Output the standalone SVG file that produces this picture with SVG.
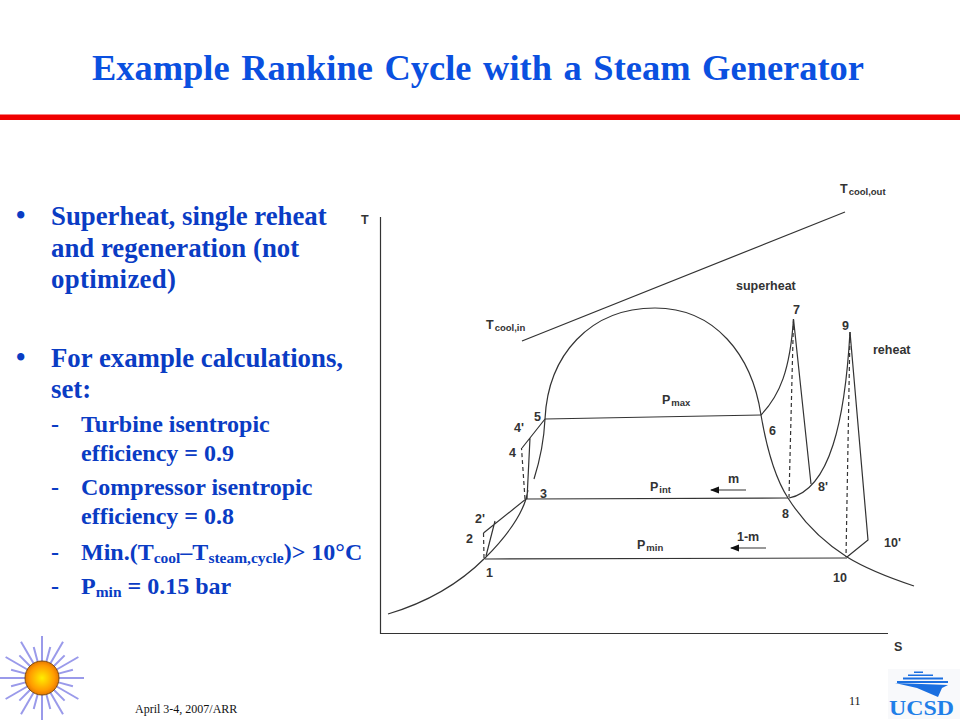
<svg xmlns="http://www.w3.org/2000/svg" width="960" height="720" viewBox="0 0 960 720">
<style>
.s{font-family:"Liberation Serif","Times New Roman",serif}
.t{font-family:"Liberation Serif",serif;font-weight:bold;fill:#0a3cc4}
.b{font-size:26.8px}
.m{font-size:24px}
.l{font-family:"Liberation Sans",Arial,sans-serif;font-size:12.5px;font-weight:bold;fill:#333}
.sm{font-size:9.5px}
.c{fill:none;stroke:#333;stroke-width:1.2}
.d{fill:none;stroke:#333;stroke-width:1.2;stroke-dasharray:4 3}
.ray{stroke:#9a9aea;stroke-width:2}
</style>
<defs>
<radialGradient id="sun"><stop offset="0" stop-color="#ffee00"/><stop offset=".75" stop-color="#ff9a00"/><stop offset="1" stop-color="#e67800"/></radialGradient>
<marker id="ah" markerWidth="8" markerHeight="6" refX="7" refY="3" orient="auto"><path d="M0 0L8 3L0 6Z" fill="#111"/></marker>
</defs>
<rect width="960" height="720" fill="#fff"/>
<text class="t" id="title" x="478" y="80" text-anchor="middle" font-size="36.500" word-spacing="2.500" style="fill:#0a50e0" textLength="772" lengthAdjust="spacingAndGlyphs">Example Rankine Cycle with a Steam Generator</text>
<rect x="0" y="114.500" width="960" height="5.500" fill="#f00000"/>
<g id="text">
<text class="t b" x="16" y="224">•</text>
<text class="t b" x="51" y="224.500">Superheat, single reheat</text>
<text class="t b" x="51" y="256.500">and regeneration (not</text>
<text class="t b" x="51" y="288" textLength="125" lengthAdjust="spacing">optimized)</text>
<text class="t b" x="16" y="366">•</text>
<text class="t b" x="51" y="366.500">For example calculations,</text>
<text class="t b" x="51" y="397.500">set:</text>
<text class="t m" x="51" y="432">-</text><text class="t m" x="81" y="432">Turbine isentropic</text>
<text class="t m" x="81" y="461">efficiency = 0.9</text>
<text class="t m" x="51" y="495">-</text><text class="t m" x="81" y="495">Compressor isentropic</text>
<text class="t m" x="81" y="524">efficiency = 0.8</text>
<text class="t m" x="51" y="560">-</text><text class="t m" x="81" y="560">Min.(T<tspan font-size="15.500" dy="3">cool</tspan><tspan dy="-3">–T</tspan><tspan font-size="15.500" dy="3">steam,cycle</tspan><tspan dy="-3">)&gt; 10°C</tspan></text>
<text class="t m" x="51" y="594">-</text><text class="t m" x="81" y="594">P<tspan font-size="15.500" dy="3">min</tspan><tspan dy="-3"> = 0.15 bar</tspan></text>
</g>
<g id="connectors">
<path class="c" d="M380.500 217V633.500H888"/>
<path class="c" d="M522 341L845 212"/>
<path class="c" d="M388 614C425 603 458 585 485 558C505 538 520 518 526 499"/>
<path class="c" d="M534 479C540 460 544 440 545 419C548 355 590 308 655 308C715 308 752 355 761 415C767 450 775 478 788 498C805 525 825 543 847 557C868 570 890 578 914 586"/>
<path class="c" d="M545 419L761 415M526 499L788 498M485 559L847 558"/>
<path class="c" d="M486 556L495 521M483.500 533L526 499L528 490M527 499L530 438M522 448L545 419"/>
<path class="d" d="M484 558L483.500 533M525 499L521.500 448M793.500 319L789 497M850 332L846 557"/>
<path class="c" d="M761 415C780 395 790 370 793.500 319L811 484"/>
<path class="c" d="M789 498C830 490 845 420 850 332L868 540L847 557"/>
<path class="c" marker-end="url(#ah)" d="M746 490H711"/>
<path class="c" marker-end="url(#ah)" d="M766 548H731"/>
</g>
<g id="labels">
<text class="l" x="361" y="224">T</text>
<text class="l" x="840" y="193">T<tspan class="sm" dx="1" dy="2">cool,out</tspan></text>
<text class="l" x="486" y="329">T<tspan class="sm" dx="1" dy="2">cool,in</tspan></text>
<text class="l" x="736" y="290">superheat</text>
<text class="l" x="873" y="354">reheat</text>
<text class="l" x="793" y="314">7</text>
<text class="l" x="842" y="330">9</text>
<text class="l" x="534" y="421">5</text>
<text class="l" x="514" y="432">4'</text>
<text class="l" x="509" y="457">4</text>
<text class="l" x="540" y="498">3</text>
<text class="l" x="475" y="523">2'</text>
<text class="l" x="466" y="543">2</text>
<text class="l" x="486" y="577">1</text>
<text class="l" x="769" y="435">6</text>
<text class="l" x="818" y="491">8'</text>
<text class="l" x="782" y="518">8</text>
<text class="l" x="884" y="547">10'</text>
<text class="l" x="833" y="582">10</text>
<text class="l" x="728" y="483">m</text>
<text class="l" x="737" y="541">1-m</text>
<text class="l" x="662" y="404">P<tspan class="sm" dx="1" dy="2">max</tspan></text>
<text class="l" x="650" y="491">P<tspan class="sm" dx="1" dy="2">int</tspan></text>
<text class="l" x="637" y="549">P<tspan class="sm" dx="1" dy="2">min</tspan></text>
<text class="l" x="894" y="651">S</text>
</g>
<g id="sun-logo">
<g class="ray" transform="translate(42 678)">
<path id="lr" class="ray" d="M0 -17V-42"/>
<path class="ray" transform="rotate(30)" d="M0 -17V-42"/><path class="ray" transform="rotate(60)" d="M0 -17V-42"/><path class="ray" transform="rotate(90)" d="M0 -17V-42"/><path class="ray" transform="rotate(120)" d="M0 -17V-42"/><path class="ray" transform="rotate(150)" d="M0 -17V-42"/><path class="ray" transform="rotate(180)" d="M0 -17V-42"/><path class="ray" transform="rotate(210)" d="M0 -17V-42"/><path class="ray" transform="rotate(240)" d="M0 -17V-42"/><path class="ray" transform="rotate(270)" d="M0 -17V-42"/><path class="ray" transform="rotate(300)" d="M0 -17V-42"/><path class="ray" transform="rotate(330)" d="M0 -17V-42"/>
<path class="ray" transform="rotate(15)" d="M0 -17V-32"/><path class="ray" transform="rotate(45)" d="M0 -17V-32"/><path class="ray" transform="rotate(75)" d="M0 -17V-32"/><path class="ray" transform="rotate(105)" d="M0 -17V-32"/><path class="ray" transform="rotate(135)" d="M0 -17V-32"/><path class="ray" transform="rotate(165)" d="M0 -17V-32"/><path class="ray" transform="rotate(195)" d="M0 -17V-32"/><path class="ray" transform="rotate(225)" d="M0 -17V-32"/><path class="ray" transform="rotate(255)" d="M0 -17V-32"/><path class="ray" transform="rotate(285)" d="M0 -17V-32"/><path class="ray" transform="rotate(315)" d="M0 -17V-32"/><path class="ray" transform="rotate(345)" d="M0 -17V-32"/>
</g>
<circle cx="42" cy="678" r="17" fill="url(#sun)" stroke="#7a4a10" stroke-width="1"/>
</g>
<text class="s" x="135" y="713" font-size="12" fill="#111">April 3-4, 2007/ARR</text>
<text class="s" x="849" y="705" font-size="12" fill="#111">11</text>
<g id="ucsd">
<rect x="888" y="669" width="72" height="50" fill="#f8f9fb"/>
<path fill="#1a6fe0" d="M914 671.500H923V673H914ZM908 674.500H933V676H908ZM903 677.500H943V679.500H903ZM897 681H948V683H897ZM895 683L948 685L942 688L938 697L917 688Z"/>
<text x="889" y="715" font-family="Liberation Serif,serif" font-weight="bold" font-size="20" fill="#1f7fe8" textLength="65" lengthAdjust="spacingAndGlyphs">UCSD</text>
</g>
</svg>
